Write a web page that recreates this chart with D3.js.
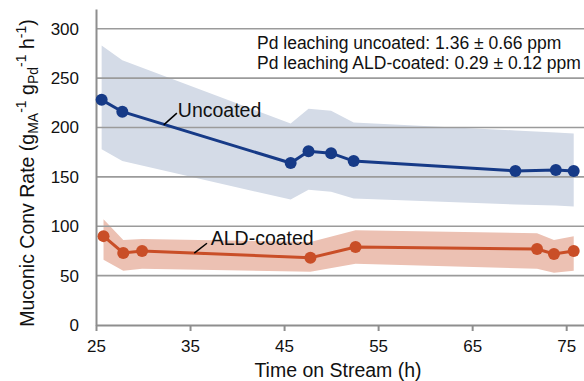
<!DOCTYPE html>
<html>
<head>
<meta charset="utf-8">
<script src="https://cdn.jsdelivr.net/npm/d3@7"></script>
<style>
  body { margin: 0; background: #fff; }
  svg { display: block; font-family: "Liberation Sans", Arial, sans-serif; }
</style>
</head>
<body>
<div id="chart"></div>
<script>
// uncoated catalyst
const uncoatedTime = [25.6, 27.8, 45.7, 47.6, 50.0, 52.4, 69.6, 73.9, 75.8];
const uncoatedRate = [228, 216, 164, 176, 174, 166, 156, 157, 156];
const uncoatedHigh = [283, 268, 204, 219, 217, 205, 197, 195, 194];
const uncoatedLow  = [178, 166, 127, 137, 135, 128, 122, 121, 120];

// ALD-coated catalyst
const aldTime = [25.8, 27.9, 29.9, 47.8, 52.6, 71.9, 73.7, 75.8];
const aldRate = [90, 73, 75, 68, 79, 77, 72, 75];
const aldHigh = [107, 86, 87, 84, 96, 93, 86, 90];
const aldLow  = [66, 55, 57, 54, 62, 57, 53, 55];

const xTicks = [25, 35, 45, 55, 65, 75];
const yTicks = [0, 50, 100, 150, 200, 250, 300];
const notes = [
    "Pd leaching uncoated: 1.36 ± 0.66 ppm",
    "Pd leaching ALD-coated: 0.29 ± 0.12 ppm"
];

const width = 584, height = 381;

const svg = d3.select("#chart").append("svg")
    .attr("width", width)
    .attr("height", height);

const xScale = d3.scaleLinear().domain([25, 77]).range([96, 585]);
const yScale = d3.scaleLinear().domain([0, 320]).range([325, 9]);

const toRows = (t, v, hi, lo) => t.map((d, i) => ({ t: d, v: v[i], hi: hi[i], lo: lo[i] }));
const uncoated = toRows(uncoatedTime, uncoatedRate, uncoatedHigh, uncoatedLow);
const ald = toRows(aldTime, aldRate, aldHigh, aldLow);

const area = d3.area()
    .x(d => xScale(d.t))
    .y0(d => yScale(d.lo))
    .y1(d => yScale(d.hi));

const line = d3.line()
    .x(d => xScale(d.t))
    .y(d => yScale(d.v));

// bands first, grid goes over them
svg.append("path").datum(uncoated).attr("d", area).style("fill", "#d4dbe7");
svg.append("path").datum(ald).attr("d", area).style("fill", "#ecc1b3");

// gridlines
svg.append("g")
    .selectAll("line")
    .data(yTicks.filter(d => d > 0))
    .enter()
    .append("line")
    .attr("x1", xScale(25))
    .attr("x2", width)
    .attr("y1", d => yScale(d))
    .attr("y2", d => yScale(d))
    .style("stroke", "#9b9b9b")
    .style("stroke-width", 1.6);

// axes
const xAxis = d3.axisBottom(xScale).tickValues(xTicks).tickSize(6).tickSizeOuter(0).tickPadding(9);
const yAxis = d3.axisLeft(yScale).tickValues(yTicks).tickSize(0).tickPadding(17);

const gx = svg.append("g")
    .attr("transform", `translate(0, ${yScale(0)})`)
    .call(xAxis);

const gy = svg.append("g")
    .attr("transform", `translate(${xScale(25)}, 0)`)
    .call(yAxis);

[gx, gy].forEach(g => {
    g.select(".domain").style("stroke", "#8e8e8e").style("stroke-width", 2);
    g.selectAll(".tick line").style("stroke", "#8e8e8e").style("stroke-width", 2);
    g.selectAll(".tick text")
        .style("font-size", "17px")
        .style("fill", "#111")
        .style("font-family", "'Liberation Sans', Arial, sans-serif");
});

// series lines and dots
const series = [
    { rows: uncoated, color: "#163a87" },
    { rows: ald, color: "#c94e27" }
];

series.forEach(s => {
    svg.append("path")
        .datum(s.rows)
        .attr("d", line)
        .style("fill", "none")
        .style("stroke", s.color)
        .style("stroke-width", 3);

    svg.append("g")
        .selectAll("circle")
        .data(s.rows)
        .enter()
        .append("circle")
        .attr("cx", d => xScale(d.t))
        .attr("cy", d => yScale(d.v))
        .attr("r", 6)
        .style("fill", s.color);
});

// series labels with leader lines
const labels = [
    { text: "Uncoated", tx: 33.7, ty: 210.8, from: [32.2, 202.7], to: [33.6, 214.5] },
    { text: "ALD-coated", tx: 37.2, ty: 80.6, from: [35.45, 72.7], to: [36.8, 82.8] }
];

labels.forEach(l => {
    svg.append("line")
        .attr("x1", xScale(l.from[0]))
        .attr("y1", yScale(l.from[1]))
        .attr("x2", xScale(l.to[0]))
        .attr("y2", yScale(l.to[1]))
        .style("stroke", "#000")
        .style("stroke-width", 1.5);

    svg.append("text")
        .attr("x", xScale(l.tx))
        .attr("y", yScale(l.ty))
        .style("font-size", "19.5px")
        .style("fill", "#111")
        .text(l.text);
});

// leaching notes
svg.append("g")
    .selectAll("text")
    .data(notes)
    .enter()
    .append("text")
    .attr("x", 257)
    .attr("y", (d, i) => 49 + i * 20)
    .style("font-size", "17.5px")
    .style("fill", "#111")
    .text(d => d);

// axis titles
svg.append("text")
    .attr("x", 338)
    .attr("y", 377)
    .attr("text-anchor", "middle")
    .style("font-size", "19.5px")
    .style("fill", "#111")
    .text("Time on Stream (h)");

const yTitle = svg.append("text")
    .attr("transform", "translate(33.5, 173) rotate(-90)")
    .attr("text-anchor", "middle")
    .style("font-size", "19.5px")
    .style("fill", "#111");

const parts = [
    { t: "Muconic Conv Rate (g", dy: 0, small: false },
    { t: "MA", dy: 4.5, small: true },
    { t: "-1", dy: -12, small: true },
    { t: " g", dy: 7.5, small: false },
    { t: "Pd", dy: 4.5, small: true },
    { t: "-1", dy: -12, small: true },
    { t: " h", dy: 7.5, small: false },
    { t: "-1", dy: -7.5, small: true },
    { t: ")", dy: 7.5, small: false }
];

parts.forEach(p => {
    yTitle.append("tspan")
        .attr("dy", p.dy)
        .style("font-size", p.small ? "14px" : "19.5px")
        .text(p.t);
});
</script>
</body>
</html>
